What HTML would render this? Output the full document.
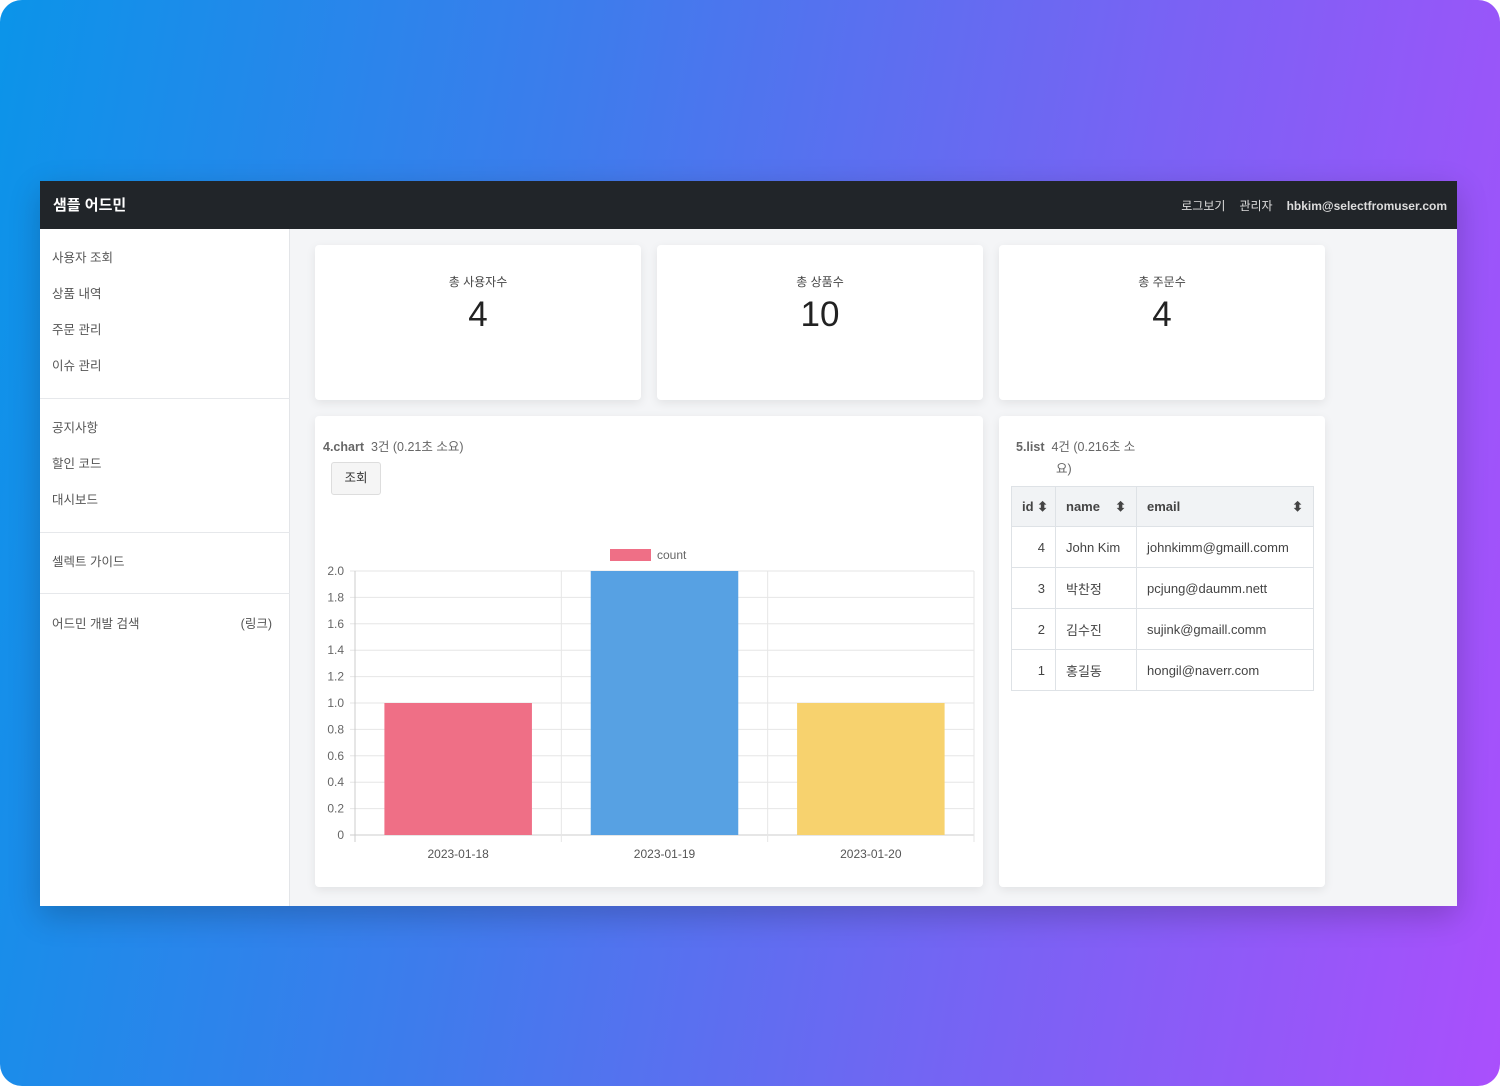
<!DOCTYPE html>
<html><head><meta charset="utf-8">
<style>
*{box-sizing:border-box;margin:0;padding:0}
body{width:1500px;height:1086px;background:#fff;font-family:"Liberation Sans","Noto Sans CJK KR",sans-serif;overflow:hidden;position:relative}
#bg{position:absolute;left:0;top:0;width:1500px;height:1086px;border-radius:22px;background:linear-gradient(100deg,#0b94e9 0%,#3d7cec 35%,#7a62f4 70%,#aa4ffc 100%)}
#win{position:absolute;left:40px;top:181px;width:1417px;height:725px;background:#f4f5f7;overflow:hidden;box-shadow:0 10px 30px rgba(0,0,0,.2)}
#nav{position:absolute;left:0;top:0;width:1417px;height:48px;background:#212529;color:#fff}
#nav .brand{position:absolute;left:13px;top:13px;font-size:15px;font-weight:bold}
#nav .r{position:absolute;right:10px;top:16px;font-size:12px;color:#ddd}
#nav .r span{margin-left:14px}
#side{position:absolute;left:0;top:48px;width:250px;height:677px;background:#fff;border-right:1px solid #e3e5e8}
.it{position:absolute;left:12px;font-size:12.5px;color:#555}
.sep{position:absolute;left:0;width:250px;border-top:1px solid #e6e8eb}
.card{position:absolute;background:#fff;border-radius:4px;box-shadow:0 3px 10px rgba(0,0,0,.08)}
.card .t{position:absolute;width:100%;text-align:center;top:28px;font-size:12px;color:#444}
.card .n{position:absolute;width:100%;text-align:center;top:50px;font-size:35px;color:#222}
table{position:absolute;left:12px;top:70px;width:303px;border-collapse:collapse;font-size:13px;color:#444}
td,th{border:1px solid #dee2e6;height:41px;padding:0 10px;white-space:nowrap}
th{background:#f1f3f5;text-align:left;height:40px}
th.idh{padding:0 5px 0 10px}
td.id{text-align:right}
</style></head><body>
<div id="bg"></div>
<div id="win">
 <div id="nav">
  <div class="brand">샘플 어드민</div>
  <div class="r"><span>로그보기</span><span>관리자</span><span style="font-weight:bold">hbkim@selectfromuser.com</span></div>
 </div>
 <div id="side">
  <div class="it" style="top:18px">사용자 조회</div>
  <div class="it" style="top:54px">상품 내역</div>
  <div class="it" style="top:90px">주문 관리</div>
  <div class="it" style="top:126px">이슈 관리</div>
  <div class="sep" style="top:169px"></div>
  <div class="it" style="top:188px">공지사항</div>
  <div class="it" style="top:224px">할인 코드</div>
  <div class="it" style="top:260px">대시보드</div>
  <div class="sep" style="top:303px"></div>
  <div class="it" style="top:322px">셀렉트 가이드</div>
  <div class="sep" style="top:364px"></div>
  <div class="it" style="top:384px;width:220px">어드민 개발 검색<span style="float:right">(링크)</span></div>
 </div>
 <div class="card" style="left:275px;top:64px;width:326px;height:155px"><div class="t">총 사용자수</div><div class="n">4</div></div>
 <div class="card" style="left:617px;top:64px;width:326px;height:155px"><div class="t">총 상품수</div><div class="n">10</div></div>
 <div class="card" style="left:959px;top:64px;width:326px;height:155px"><div class="t">총 주문수</div><div class="n">4</div></div>
 <div class="card" style="left:275px;top:235px;width:668px;height:471px">
  <div style="position:absolute;left:8px;top:20px;font-size:12.5px;color:#666"><b>4.chart</b>&nbsp; 3건 (0.21초 소요)</div>
  <div style="position:absolute;left:16px;top:46px;width:50px;height:33px;border:1px solid #ddd;border-radius:3px;background:#f5f5f5;font-size:12.5px;text-align:center;line-height:31px;color:#333">조회</div>
 </div>
 <div class="card" style="left:959px;top:235px;width:326px;height:471px">
  <div style="position:absolute;left:17px;top:20px;font-size:12.5px;color:#666;width:150px;line-height:22px"><b>5.list</b>&nbsp; 4건 (0.216초 소<br><span style="padding-left:40px">요)</span></div>
  <table>
   <tr><th class="idh" style="width:44px">id ⬍</th><th style="width:81px">name <span style="float:right">⬍</span></th><th>email <span style="float:right">⬍</span></th></tr>
   <tr><td class="id">4</td><td>John Kim</td><td>johnkimm@gmaill.comm</td></tr>
   <tr><td class="id">3</td><td>박찬정</td><td>pcjung@daumm.nett</td></tr>
   <tr><td class="id">2</td><td>김수진</td><td>sujink@gmaill.comm</td></tr>
   <tr><td class="id">1</td><td>홍길동</td><td>hongil@naverr.com</td></tr>
  </table>
 </div>
</div>
<svg id="chart" width="1500" height="1086" style="position:absolute;left:0;top:0"></svg>
<script>
const categories=["2023-01-18","2023-01-19","2023-01-20"];
const counts=[1,2,1];
const yTicks=[0,0.2,0.4,0.6,0.8,1.0,1.2,1.4,1.6,1.8,2.0];
const colors=["#ef6f86","#57a1e3","#f7d26e"];
const NS="http://www.w3.org/2000/svg";
const svg=document.getElementById('chart');
const X0=355,X1=974,Y0=835,Y1=571,YMAX=2;
const y=v=>Y0-(v/YMAX)*(Y0-Y1);
const bw=(X1-X0)/categories.length;
const x=i=>X0+i*bw;
function mk(t,a){const e=document.createElementNS(NS,t);for(const k in a)e.setAttribute(k,a[k]);svg.appendChild(e);return e;}
yTicks.forEach(v=>{
 const l=mk('line',{x1:X0-5,x2:X1,y1:y(v),y2:y(v),stroke:v===0?'#ccc':'#e6e6e6'});
 
 
 const t=mk('text',{x:X0-11,y:y(v)+4,'text-anchor':'end','font-size':12,fill:'#666','font-family':'Liberation Sans'});
 t.textContent=v===0?'0':v.toFixed(1);
 
 
});
for(let i=0;i<=categories.length;i++){
 const l=mk('line',{x1:x(i),x2:x(i),y1:Y1,y2:Y0+7,stroke:i===0?'#ccc':'#e6e6e6'});
 
 
}
categories.forEach((c,i)=>{
 const w=bw*0.715, bx=x(i)+(bw-w)/2;
 const r=mk('rect',{x:bx,y:y(counts[i]),width:w,height:Y0-y(counts[i]),fill:colors[i]});
 
 
 const t=mk('text',{x:x(i)+bw/2,y:Y0+23,'text-anchor':'middle','font-size':12,fill:'#555','font-family':'Liberation Sans'});
 t.textContent=c;
 
 
});
const lg=mk('rect',{x:610,y:549,width:41,height:12,fill:colors[0]});


const lt=mk('text',{x:657,y:559,'font-size':12,fill:'#666','font-family':'Liberation Sans'});
lt.textContent='count';


</script>
</body></html>
